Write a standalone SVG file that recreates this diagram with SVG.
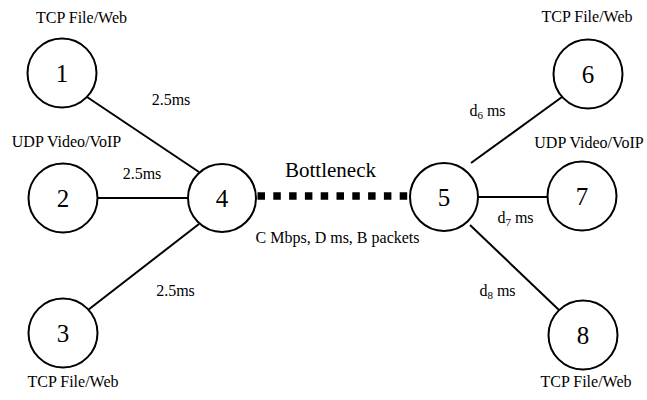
<svg xmlns="http://www.w3.org/2000/svg" width="647" height="400" viewBox="0 0 647 400">
  <style>
    .node circle { fill: #fff; stroke: #000; stroke-width: 2; }
    .num { font-family: "Liberation Serif", "Times New Roman", serif; font-size: 25px; text-anchor: middle; fill: #000; }
    .lbl { font-family: "Liberation Serif", "Times New Roman", serif; font-size: 16px; text-anchor: middle; fill: #000; }
    .big { font-family: "Liberation Serif", "Times New Roman", serif; font-size: 21px; text-anchor: middle; fill: #000; }
    .link { stroke: #000; stroke-width: 2; fill: none; }
    .bottleneck { stroke: #000; stroke-width: 7.5; stroke-dasharray: 7.5 8.3; fill: none; }
    .sub { font-size: 11px; }
  </style>

  <!-- links -->
  <g id="connectors">
    <line class="link" x1="87" y1="97" x2="199" y2="172"/>
    <line class="link" x1="97" y1="198" x2="190" y2="198"/>
    <line class="link" x1="88" y1="310" x2="199" y2="224"/>
    <line class="bottleneck" x1="257.5" y1="196" x2="410" y2="196"/>
    <line class="link" x1="471" y1="163" x2="562" y2="97"/>
    <line class="link" x1="478" y1="197" x2="548" y2="197"/>
    <line class="link" x1="470" y1="225" x2="559" y2="310"/>
  </g>

  <!-- link labels -->
  <g id="link-labels">
    <text class="lbl" x="171" y="105">2.5ms</text>
    <text class="lbl" x="142" y="179">2.5ms</text>
    <text class="lbl" x="175.5" y="296">2.5ms</text>
    <text class="big" x="330.5" y="177">Bottleneck</text>
    <text class="lbl" x="337.5" y="243">C Mbps, D ms, B packets</text>
    <text class="lbl" x="487.5" y="116">d<tspan class="sub" dy="3">6</tspan><tspan dy="-3"> ms</tspan></text>
    <text class="lbl" x="515.5" y="223">d<tspan class="sub" dy="3">7</tspan><tspan dy="-3"> ms</tspan></text>
    <text class="lbl" x="497.5" y="296">d<tspan class="sub" dy="3">8</tspan><tspan dy="-3"> ms</tspan></text>
  </g>

  <!-- traffic source/sink labels -->
  <g id="traffic-labels">
    <text class="lbl" x="81.5" y="23">TCP File/Web</text>
    <text class="lbl" x="66.5" y="147">UDP Video/VoIP</text>
    <text class="lbl" x="73" y="387">TCP File/Web</text>
    <text class="lbl" x="587" y="22">TCP File/Web</text>
    <text class="lbl" x="589" y="148">UDP Video/VoIP</text>
    <text class="lbl" x="586" y="387">TCP File/Web</text>
  </g>

  <!-- nodes -->
  <g id="node1" class="node"><circle cx="62" cy="73" r="34.5"/><text class="num" x="62" y="81.5">1</text></g>
  <g id="node2" class="node"><circle cx="63" cy="198" r="34.5"/><text class="num" x="63" y="206.5">2</text></g>
  <g id="node3" class="node"><circle cx="63" cy="333" r="34.5"/><text class="num" x="63" y="341.5">3</text></g>
  <g id="node4" class="node"><circle cx="222" cy="198" r="34"/><text class="num" x="222" y="206.5">4</text></g>
  <g id="node5" class="node"><circle cx="444" cy="197" r="34"/><text class="num" x="444" y="205.5">5</text></g>
  <g id="node6" class="node"><circle cx="588" cy="74" r="34.5"/><text class="num" x="588" y="82.5">6</text></g>
  <g id="node7" class="node"><circle cx="582" cy="196" r="34.5"/><text class="num" x="582" y="204.5">7</text></g>
  <g id="node8" class="node"><circle cx="583" cy="335" r="34.5"/><text class="num" x="583" y="343.5">8</text></g>
</svg>
